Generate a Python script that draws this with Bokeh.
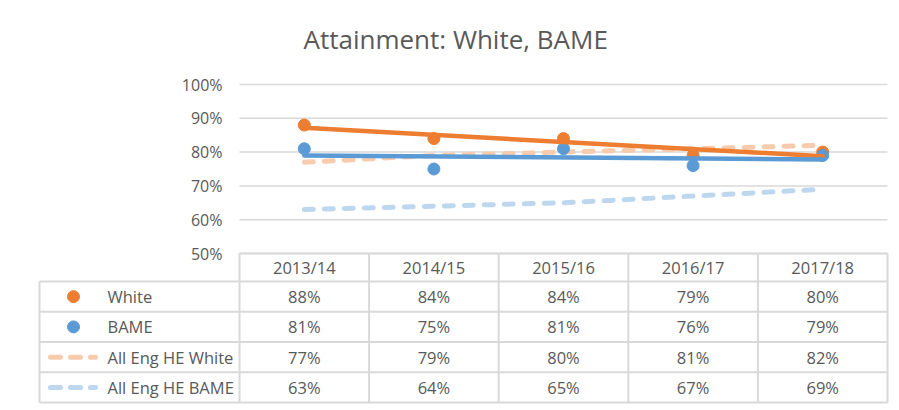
import numpy as np
from bokeh.plotting import figure
from bokeh.models import Range1d, LinearAxis, FixedTicker, PrintfTickFormatter, Title, BoxAnnotation
from bokeh.core.properties import value
from bokeh.embed import file_html
from bokeh.resources import INLINE

# ---------------- data ----------------
years = ["2013/14", "2014/15", "2015/16", "2016/17", "2017/18"]
white = [88, 84, 84, 79, 80]
bame = [81, 75, 81, 76, 79]
eng_white = [77, 79, 80, 81, 82]
eng_bame = [63, 64, 65, 67, 69]
y_ticks = [50, 60, 70, 80, 90, 100]
series_names = ["White", "BAME", "All Eng HE White", "All Eng HE BAME"]
title_text = "Attainment: White, BAME"

# ---------------- style ----------------
ORANGE = "#ED7D31"
BLUE = "#5B9BD5"
LORANGE = "#F8CBAD"
LBLUE = "#BDD7EE"
TEXT = "#595959"
GRID = "#D9D9D9"
FONT = "Open Sans"
FS = "16px"
FS_TBL = "16.5px"

W, H = 891, 404
B_LEFT, B_RIGHT, B_TOP, B_BOTTOM = 37, 2, 70, 0
COL = 129.6      # px per category column
LEG_W = 200      # px width of table legend column
ROW = 30.25      # px per table row
PCT = 3.38       # px per percentage point
TOP_PAD = 14     # px between frame top and the 100% gridline

frame_w = W - B_LEFT - B_RIGHT
frame_h = H - B_TOP - B_BOTTOM
n = len(years)
xs = list(range(n))

x_hi = n - 0.5 + 2 / COL
x_lo = x_hi - frame_w / COL
y_hi = max(y_ticks) + TOP_PAD / PCT
y_lo = y_hi - frame_h / PCT
t_lo = -2 / ROW
t_hi = t_lo + frame_h / ROW
hdr_top = t_lo + (min(y_ticks) - y_lo) * PCT / ROW
n_rows = len(series_names)

p = figure(width=W, height=H, x_range=Range1d(x_lo, x_hi), y_range=Range1d(y_lo, y_hi),
           output_backend="svg", toolbar_location=None,
           x_axis_location=None, y_axis_location=None,
           min_border_left=B_LEFT, min_border_right=B_RIGHT,
           min_border_top=B_TOP, min_border_bottom=B_BOTTOM,
           outline_line_color=None)
p.extra_y_ranges = {"tbl": Range1d(t_lo, t_hi)}
p.xgrid.visible = False
p.ygrid.visible = False

# outer chart-area border (light grey, left and top visible)
p.add_layout(BoxAnnotation(left=4, right=W + 20, top=6, bottom=H + 20,
                           left_units="canvas", right_units="canvas",
                           top_units="canvas", bottom_units="canvas",
                           fill_alpha=0, line_color=GRID, line_width=2, level="overlay"))

title = Title(text=title_text, align="left", offset=266, text_font=FONT,
              text_font_size="26px", text_font_style="normal", text_color=TEXT, standoff=28)
p.add_layout(title, "above")

yaxis = LinearAxis(ticker=FixedTicker(ticks=y_ticks), formatter=PrintfTickFormatter(format="%d%%"),
                   fixed_location=-0.5, axis_line_color=None,
                   major_tick_line_color=None, minor_tick_line_color=None,
                   major_tick_in=0, major_tick_out=0,
                   major_label_standoff=17, major_label_text_font=FONT,
                   major_label_text_font_size=FS, major_label_text_color=TEXT)
p.add_layout(yaxis, "left")

# gridlines
p.segment(x0=[-0.5] * len(y_ticks), x1=[n - 0.5] * len(y_ticks), y0=y_ticks, y1=y_ticks,
          line_color=GRID, line_width=1.5)

# series
p.line(xs, eng_white, line_color=LORANGE, line_width=5, line_dash="9 11", line_cap="round")
p.line(xs, eng_bame, line_color=LBLUE, line_width=5, line_dash="9 11", line_cap="round")
p.scatter(xs, white, size=12, fill_color=ORANGE, line_color=ORANGE)
p.scatter(xs, bame, size=12, fill_color=BLUE, line_color=BLUE)

ends = [xs[0], xs[-1]]
for vals, col in ((white, ORANGE), (bame, BLUE)):
    coef = np.polyfit(xs, vals, 1)
    p.line(ends, list(np.polyval(coef, ends)), line_color=col, line_width=4.5, line_cap="round")

# ---------------- data table ----------------
leg_left = -0.5 - LEG_W / COL
row_lines = list(range(n_rows + 1))
p.segment(x0=[leg_left] * len(row_lines), x1=[n - 0.5] * len(row_lines), y0=row_lines, y1=row_lines,
          line_color=GRID, line_width=2, y_range_name="tbl")
p.segment(x0=[-0.5], x1=[n - 0.5], y0=[hdr_top], y1=[hdr_top], line_color=GRID, line_width=2,
          y_range_name="tbl")
col_lines = [i - 0.5 for i in range(n + 1)]
p.segment(x0=col_lines, x1=col_lines, y0=[0] * len(col_lines), y1=[hdr_top] * len(col_lines),
          line_color=GRID, line_width=2, y_range_name="tbl")
p.segment(x0=[leg_left], x1=[leg_left], y0=[0], y1=[n_rows], line_color=GRID, line_width=2,
          y_range_name="tbl")

txt = dict(text_font=value(FONT), text_font_size=FS_TBL, text_color=TEXT, text_baseline="middle",
           y_range_name="tbl")
p.text(x=xs, y=[(n_rows + hdr_top) / 2] * n, text=years, text_align="center", **txt)

rows = [white, bame, eng_white, eng_bame]
row_y = [n_rows - 0.5 - r for r in range(n_rows)]
for vals, yy in zip(rows, row_y):
    p.text(x=xs, y=[yy] * n, text=[f"{v}%" for v in vals], text_align="center", **txt)

leg_text_x = -0.5 - 132 / COL
leg_mark_x = -0.5 - 166 / COL
p.text(x=[leg_text_x] * n_rows, y=row_y, text=series_names, text_align="left", **txt)
p.scatter([leg_mark_x] * 2, row_y[:2], size=12, fill_color=[ORANGE, BLUE], line_color=[ORANGE, BLUE],
          y_range_name="tbl")
dash_x = [-0.5 - 189 / COL, -0.5 - 144 / COL]
p.line(dash_x, [row_y[2]] * 2, line_color=LORANGE, line_width=5, line_dash="10 10", line_cap="round",
       y_range_name="tbl")
p.line(dash_x, [row_y[3]] * 2, line_color=LBLUE, line_width=5, line_dash="10 10", line_cap="round",
       y_range_name="tbl")

open("out.html", "w").write(file_html(p, INLINE))
